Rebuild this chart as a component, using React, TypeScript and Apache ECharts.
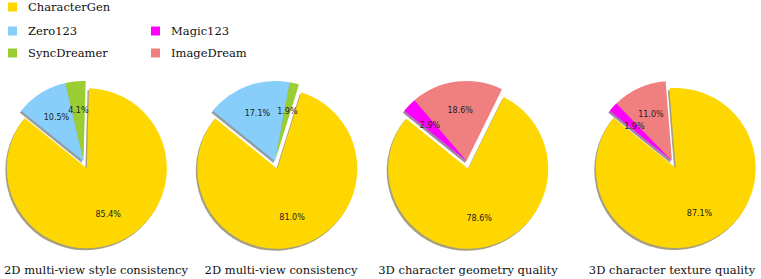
import React, { useEffect, useRef } from "react";
import * as echarts from "echarts";

// ---- data ----
const methodNames = ["CharacterGen", "Zero123", "SyncDreamer", "Magic123", "ImageDream"];
const methodColors = ["#FFD700", "#87CEFA", "#9ACD32", "#FF00FF", "#F08080"];

const pieTitles = [
  "2D multi-view style consistency",
  "2D multi-view consistency",
  "3D character geometry quality",
  "3D character texture quality",
];

const pie1Names = ["CharacterGen", "Zero123", "SyncDreamer"];
const pie1Values = [85.4, 10.5, 4.1];
const pie2Names = ["CharacterGen", "Zero123", "SyncDreamer"];
const pie2Values = [81.0, 17.1, 1.9];
const pie3Names = ["CharacterGen", "Magic123", "ImageDream"];
const pie3Values = [78.6, 2.9, 18.6];
const pie4Names = ["CharacterGen", "Magic123", "ImageDream"];
const pie4Values = [87.1, 1.9, 11.0];

// ---- layout / style ----
const pieCenters: [number, number][] = [
  [83.5, 161],
  [275, 161],
  [466.5, 161],
  [672, 161],
];
const titleCenters = [96, 281, 468, 672];
const R = 80;
const SERIF = "DejaVu Serif";

function colorOf(name: string) {
  return methodColors[methodNames.indexOf(name)];
}
function shadowOf(hex: string) {
  const r = parseInt(hex.slice(1, 3), 16);
  const g = parseInt(hex.slice(3, 5), 16);
  const b = parseInt(hex.slice(5, 7), 16);
  return `rgba(${Math.round(r * 0.3)},${Math.round(g * 0.3)},${Math.round(b * 0.3)},0.5)`;
}

export default function App() {
  const ref = useRef<HTMLDivElement>(null);

  useEffect(() => {
    if (!ref.current) return;
    const chart = echarts.init(ref.current, undefined, { renderer: "svg" });

    const pies = [
      [pie1Names, pie1Values],
      [pie2Names, pie2Values],
      [pie3Names, pie3Values],
      [pie4Names, pie4Values],
    ] as [string[], number[]][];

    const series: any[] = [];
    pies.forEach(([names, values], i) => {
      // counter-clockwise drawing order: first item, then the rest reversed
      const order = [0, ...names.map((_, k) => k).slice(1).reverse()];
      const mk = (kind: "shadow" | "main" | "label") =>
        order.map((k) => ({
          name: names[k],
          value: values[k],
          selected: k === 0,
          itemStyle: {
            color:
              kind === "shadow"
                ? shadowOf(colorOf(names[k]))
                : kind === "main"
                ? colorOf(names[k])
                : "rgba(0,0,0,0)",
          },
        }));
      const [cx, cy] = pieCenters[i];
      const common = {
        type: "pie",
        clockwise: false,
        startAngle: 141,
        selectedMode: "multiple",
        selectedOffset: 8,
        silent: true,
        avoidLabelOverlap: false,
        emphasis: { disabled: true },
        labelLine: { show: false },
        labelLayout: { hideOverlap: false },
      };
      series.push({
        ...common,
        name: "shadow" + i,
        z: 1,
        center: [cx - 1.5, cy + 2],
        radius: [0, R],
        label: { show: false },
        data: mk("shadow"),
      });
      series.push({
        ...common,
        name: "main" + i,
        z: 2,
        center: [cx, cy],
        radius: [0, R],
        label: { show: false },
        data: mk("main"),
      });
      series.push({
        ...common,
        name: "label" + i,
        z: 3,
        center: [cx, cy],
        radius: [R * 0.2, R],
        label: {
          show: true,
          position: "inside",
          color: "#222",
          fontSize: 8,
          fontFamily: "DejaVu Sans",
          formatter: (p: any) => p.value.toFixed(1) + "%",
        },
        data: mk("label"),
      });
    });

    const legendPos: [string, number, number][] = [
      ["CharacterGen", 8, 7],
      ["Zero123", 8, 31],
      ["SyncDreamer", 8, 53],
      ["Magic123", 151, 31],
      ["ImageDream", 151, 53],
    ];
    const legend = legendPos.map(([name, x, yc]) => ({
      show: true,
      left: x,
      top: yc - 7,
      padding: 0,
      orient: "vertical",
      icon: "rect",
      itemWidth: 9,
      itemHeight: 9,
      selectedMode: false,
      textStyle: {
        fontFamily: SERIF,
        fontSize: 11.5,
        color: "#111",
        lineHeight: 14,
        padding: [0, 0, 0, 6],
      },
      data: [{ name, itemStyle: { color: colorOf(name) } }],
    }));

    const graphic = pieTitles.map((t, i) => ({
      type: "text",
      x: titleCenters[i],
      y: 270,
      style: {
        text: t,
        textAlign: "center",
        textVerticalAlign: "middle",
        fontFamily: SERIF,
        fontSize: 11.5,
        fill: "#111",
      },
    }));

    chart.setOption({
      animation: false,
      backgroundColor: "#fff",
      legend,
      graphic,
      series,
    });

    return () => chart.dispose();
  }, []);

  return (
    <div
      ref={ref}
      style={{ position: "fixed", left: 0, top: 0, width: 761, height: 279 }}
    />
  );
}
